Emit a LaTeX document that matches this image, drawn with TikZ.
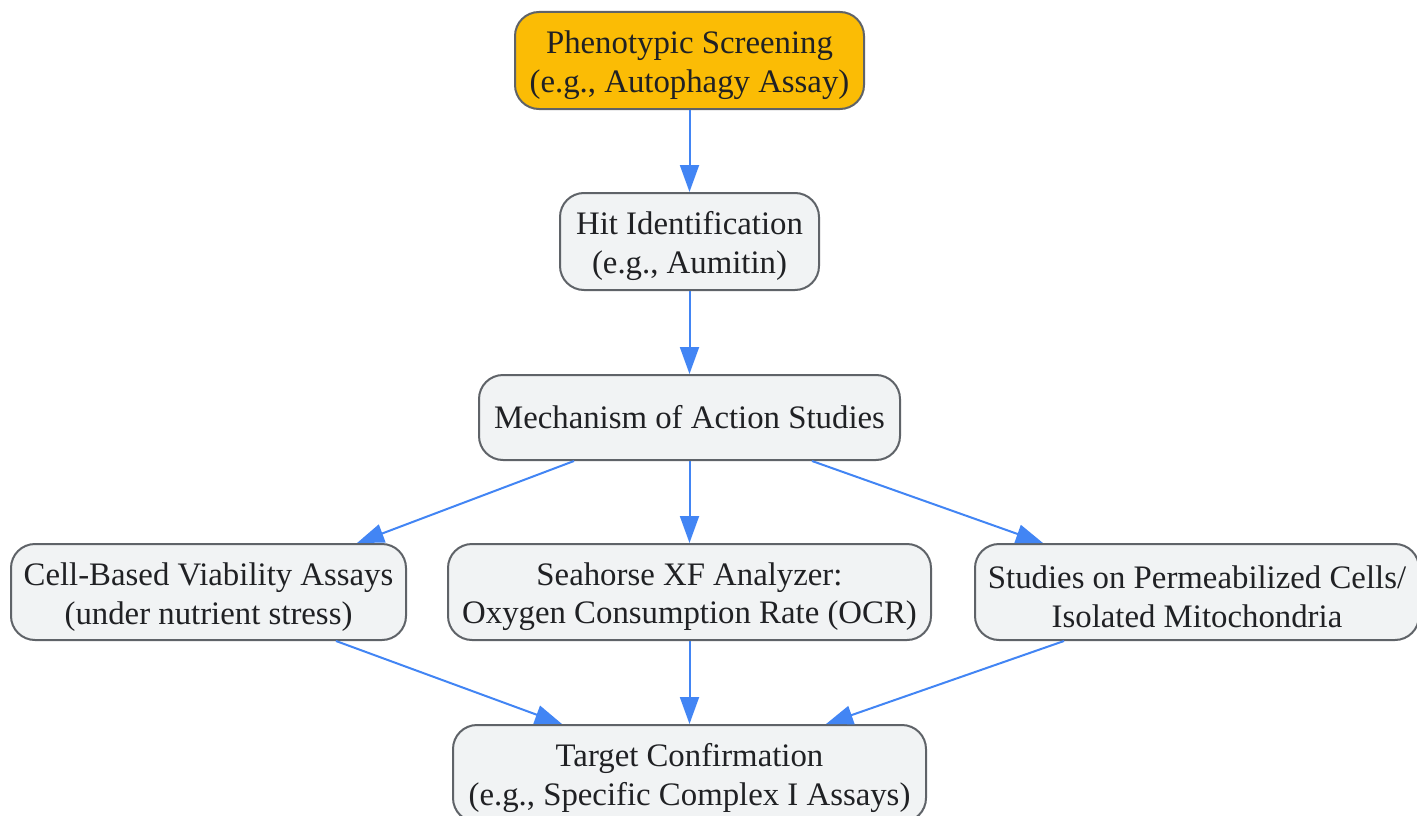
\documentclass[tikz,border=0pt]{standalone}
\usepackage{fontspec}
\setmainfont{Liberation Serif}
\usetikzlibrary{arrows.meta}
\definecolor{edgeblue}{HTML}{4285F4}
\definecolor{boxfill}{HTML}{F1F3F4}
\definecolor{boxdraw}{HTML}{5F6368}
\definecolor{amber}{HTML}{FBBC05}
\definecolor{txt}{HTML}{202124}
\newcommand{\myupstrut}{\rule{0pt}{32.5pt}}
\tikzset{
  box/.style={draw=boxdraw, line width=2pt, fill=boxfill, rounded corners=24pt,
    align=center, text=txt, inner sep=0pt,
    font=\fontsize{32.8}{38.5}\selectfont},
  start/.style={box, fill=amber},
  link/.style={draw=edgeblue, line width=2pt, -{Triangle[length=27pt,width=19pt]}}
}
\begin{document}
\begin{tikzpicture}[x=1pt,y=-1pt]
\useasboundingbox (0,0) rectangle (1417,816);
\node[start, minimum width=349pt, minimum height=97pt] (ps) at (689.5,60.5) {\myupstrut Phenotypic Screening\\(e.g., Autophagy Assay)};
\node[box, minimum width=259pt, minimum height=97pt] (hit) at (689.5,241.5) {\myupstrut Hit Identification\\(e.g., Aumitin)};
\node[box, minimum width=421pt, minimum height=85pt] (mech) at (689.5,417.5) {Mechanism of Action Studies};
\node[box, minimum width=395pt, minimum height=96pt] (cell) at (208.5,592) {\myupstrut Cell-Based Viability Assays\\(under nutrient stress)};
\node[box, minimum width=483pt, minimum height=96pt] (sea) at (689.5,592) {\myupstrut Seahorse XF Analyzer:\\Oxygen Consumption Rate (OCR)};
\node[box, minimum width=444pt, minimum height=96pt] (stud) at (1197,592) {\myupstrut Studies on Permeabilized Cells/\\Isolated Mitochondria};
\node[box, minimum width=473pt, minimum height=97pt] (tgt) at (689.5,773.5) {\myupstrut Target Confirmation\\(e.g., Specific Complex I Assays)};
\draw[link] (ps.south) -- (hit.north);
\draw[link] (hit.south) -- (mech.north);
\draw[link] ([xshift=-115.5pt]mech.south) -- ([xshift=148.5pt]cell.north);
\draw[link] (mech.south) -- (sea.north);
\draw[link] ([xshift=122.5pt]mech.south) -- ([xshift=-154pt]stud.north);
\draw[link] ([xshift=127.5pt]cell.south) -- ([xshift=-127.5pt]tgt.north);
\draw[link] (sea.south) -- (tgt.north);
\draw[link] ([xshift=-133pt]stud.south) -- ([xshift=136.5pt]tgt.north);
\end{tikzpicture}
\end{document}
